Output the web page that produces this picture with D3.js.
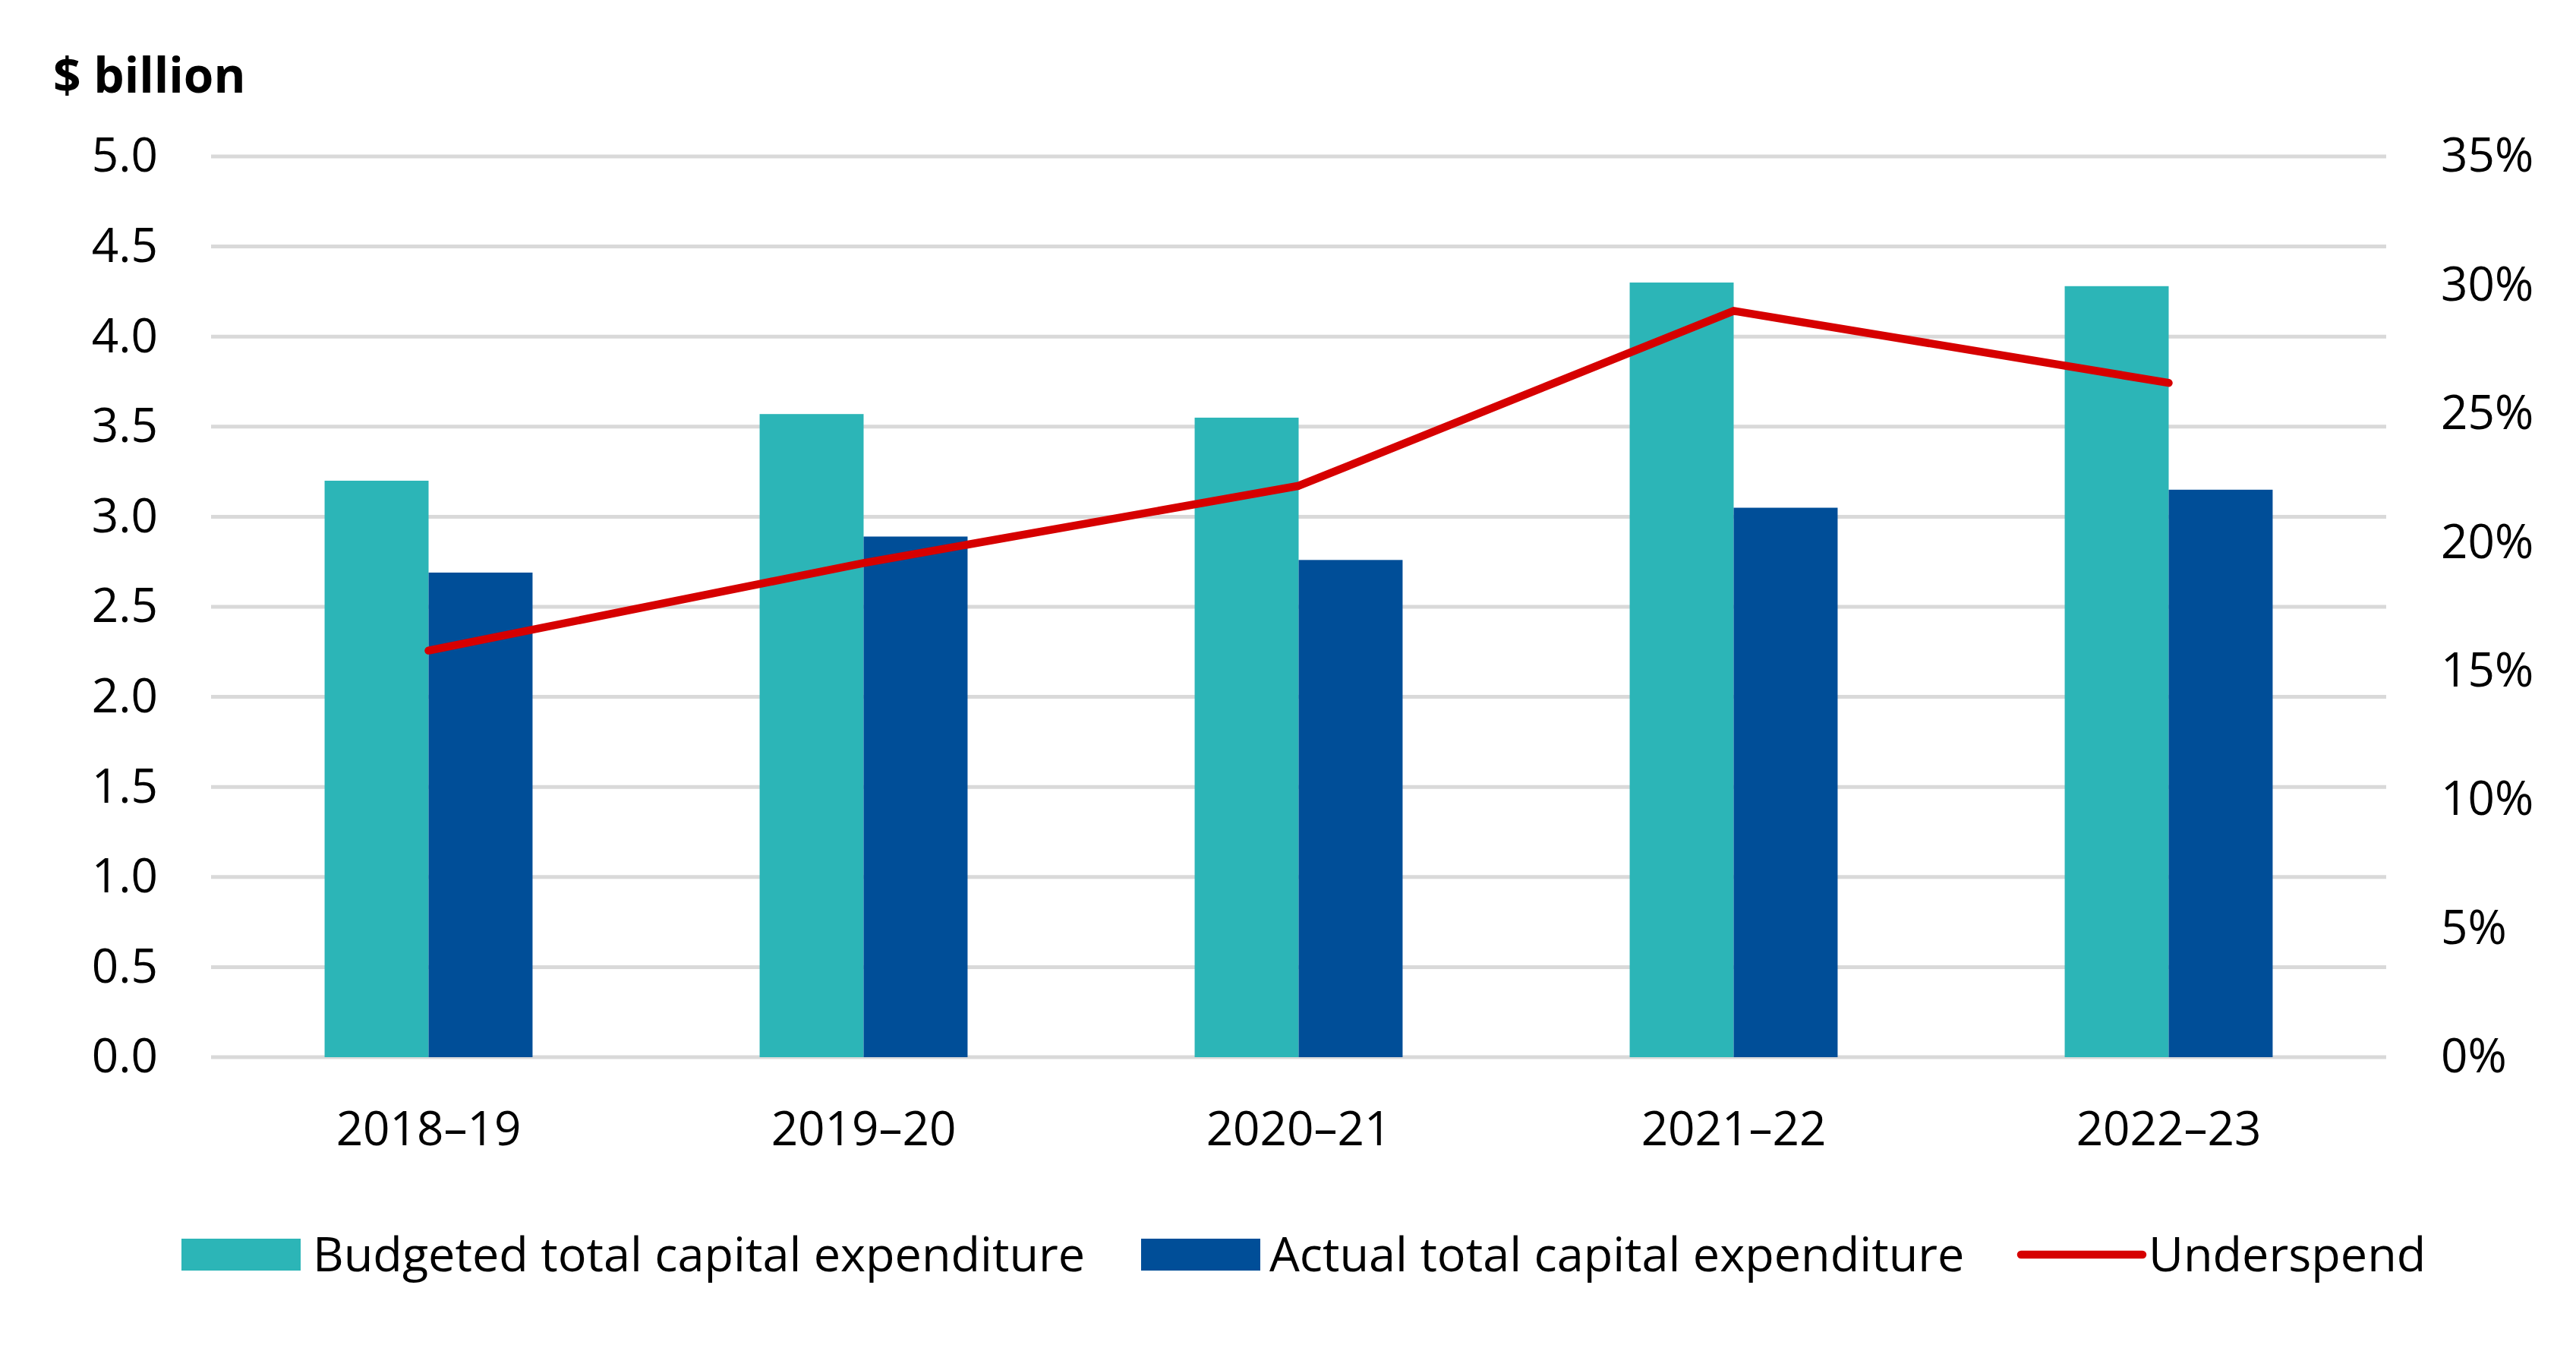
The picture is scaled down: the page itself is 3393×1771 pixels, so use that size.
<!DOCTYPE html>
<html>
<head>
<meta charset="utf-8">
<script src="https://cdn.jsdelivr.net/npm/d3@7"></script>
<style>
  html, body { margin: 0; padding: 0; background: #fff; }
  svg { display: block; font-family: "Open Sans", "Noto Sans", sans-serif; }
</style>
</head>
<body>
<svg id="chart" width="3393" height="1771"></svg>
<script>
// values
const years = ["2018–19", "2019–20", "2020–21", "2021–22", "2022–23"];
const budgeted = [3.20, 3.57, 3.55, 4.30, 4.28];
const actual = [2.69, 2.89, 2.76, 3.05, 3.15];
const underspend = [0.158, 0.192, 0.222, 0.290, 0.262];
const leftTicks = [0, 0.5, 1, 1.5, 2, 2.5, 3, 3.5, 4, 4.5, 5];
const rightTicks = [0, 0.05, 0.1, 0.15, 0.2, 0.25, 0.3, 0.35];
const seriesNames = ["Budgeted total capital expenditure", "Actual total capital expenditure", "Underspend"];

const colors = { budget: "#2cb5b7", actual: "#004e98", line: "#d60000", grid: "#d9d9d9" };

const svg = d3.select("#chart");
const plotL = 278, plotR = 3143, plotT = 206, plotB = 1392;
const fontSize = 62;

const x = d3.scaleBand().domain(years).range([plotL, plotR])
    .paddingInner(0.522).paddingOuter(0.261);
const xSub = d3.scaleBand().domain(["budget", "actual"]).range([0, x.bandwidth()]);
const yL = d3.scaleLinear().domain([0, 5]).range([plotB, plotT]);
const yR = d3.scaleLinear().domain([0, 0.35]).range([plotB, plotT]);

// gridlines
svg.append("g").selectAll("line").data(leftTicks).join("line")
    .attr("x1", plotL).attr("x2", plotR)
    .attr("y1", d => yL(d)).attr("y2", d => yL(d))
    .attr("stroke", colors.grid).attr("stroke-width", 5);

// left axis
const axisL = svg.append("g").attr("transform", "translate(" + (plotL - 70) + ",0)")
    .call(d3.axisLeft(yL).tickValues(leftTicks).tickFormat(d3.format(".1f")).tickSize(0).tickPadding(0));
axisL.select(".domain").remove();
axisL.selectAll("text").attr("font-size", fontSize).attr("fill", "#000")
    .attr("font-family", "'Open Sans', sans-serif");

// right axis
const axisR = svg.append("g").attr("transform", "translate(" + (plotR + 72) + ",0)")
    .call(d3.axisRight(yR).tickValues(rightTicks).tickFormat(d3.format(".0%")).tickSize(0).tickPadding(0));
axisR.select(".domain").remove();
axisR.selectAll("text").attr("font-size", fontSize).attr("fill", "#000")
    .attr("font-family", "'Open Sans', sans-serif");

// x axis labels
const axisX = svg.append("g").attr("transform", "translate(0," + (plotB + 72) + ")")
    .call(d3.axisBottom(x).tickSize(0).tickPadding(0));
axisX.select(".domain").remove();
axisX.selectAll("text").attr("font-size", fontSize).attr("fill", "#000")
    .attr("font-family", "'Open Sans', sans-serif");

// bars
const rows = years.map((y, i) => ({ year: y, budget: budgeted[i], actual: actual[i], under: underspend[i] }));
const groups = svg.append("g").selectAll("g").data(rows).join("g")
    .attr("transform", d => "translate(" + x(d.year) + ",0)");
groups.selectAll("rect").data(d => [["budget", d.budget], ["actual", d.actual]]).join("rect")
    .attr("x", d => xSub(d[0]))
    .attr("width", xSub.bandwidth())
    .attr("y", d => yL(d[1]))
    .attr("height", d => plotB - yL(d[1]))
    .attr("fill", d => colors[d[0]]);

// underspend line
const line = d3.line()
    .x(d => x(d.year) + x.bandwidth() / 2)
    .y(d => yR(d.under));
svg.append("path").datum(rows)
    .attr("d", line)
    .attr("fill", "none")
    .attr("stroke", colors.line)
    .attr("stroke-width", 10.5)
    .attr("stroke-linecap", "round")
    .attr("stroke-linejoin", "round");

// y axis title
svg.append("text").attr("x", 70).attr("y", 122)
    .attr("font-size", 64).attr("font-weight", "bold")
    .text("$ billion");

// legend
const legY = 1652;
const legFont = 63;
const leg = svg.append("g");
leg.append("rect").attr("x", 239).attr("y", legY - 21).attr("width", 157).attr("height", 42).attr("fill", colors.budget);
leg.append("text").attr("x", 412).attr("y", legY).attr("dy", "0.35em").attr("font-size", legFont).text(seriesNames[0]);
leg.append("rect").attr("x", 1503).attr("y", legY - 21).attr("width", 157).attr("height", 42).attr("fill", colors.actual);
leg.append("text").attr("x", 1672).attr("y", legY).attr("dy", "0.35em").attr("font-size", legFont).text(seriesNames[1]);
leg.append("line").attr("x1", 2662).attr("x2", 2822).attr("y1", legY).attr("y2", legY)
    .attr("stroke", colors.line).attr("stroke-width", 10.5).attr("stroke-linecap", "round");
leg.append("text").attr("x", 2830).attr("y", legY).attr("dy", "0.35em").attr("font-size", legFont).text(seriesNames[2]);
</script>
</body>
</html>
